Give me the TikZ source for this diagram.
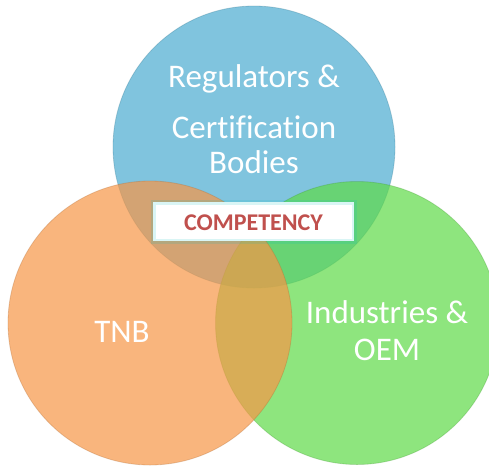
\documentclass[tikz,border=0pt]{standalone}
\usepackage{fontspec}
\setmainfont[Ligatures=NoCommon]{Carlito}
\definecolor{regblue}{RGB}{74,171,208}
\definecolor{indgreen}{RGB}{94,218,71}
\definecolor{tnborange}{RGB}{247,150,70}
\definecolor{compred}{RGB}{192,80,77}
\tikzset{
  ring/.style={circle, inner sep=0pt, fill opacity=0.7, draw opacity=0.3, line width=0.8pt},
  lbl/.style={anchor=base, text=white, font=\fontsize{33}{33}\selectfont},
}
\begin{document}
\begin{tikzpicture}[x=1pt,y=-1pt]
\useasboundingbox (0,0) rectangle (489,466);
\node[ring, minimum size=282pt, fill=regblue, draw=regblue!70!black] (ring1) at (254,147) {};
\node[ring, minimum size=283pt, fill=indgreen, draw=indgreen!70!black] (ring3) at (357,323) {};
\node[ring, minimum size=284pt, fill=tnborange, draw=tnborange!70!black] (ring2) at (150,323) {};
\node[lbl] (reg) at (254,87) {Regulators \&};
\node[lbl] (cert) at (254,138) {Certification};
\node[lbl] (bodies) at (254,173) {Bodies};
\node[lbl] (tnb) at (122,342) {TNB};
\node[lbl] (ind) at (387,323) {Industries \&};
\node[lbl] (oem) at (387,360) {OEM};
\draw[line width=5pt, draw=teal!50!cyan, draw opacity=0.15, fill=white] (153,202) rectangle (354,241);
\node[anchor=base, text=compred, font=\bfseries\fontsize{24}{24}\selectfont] (comp) at (253.5,230) {COMPETENCY};
\end{tikzpicture}
\end{document}
